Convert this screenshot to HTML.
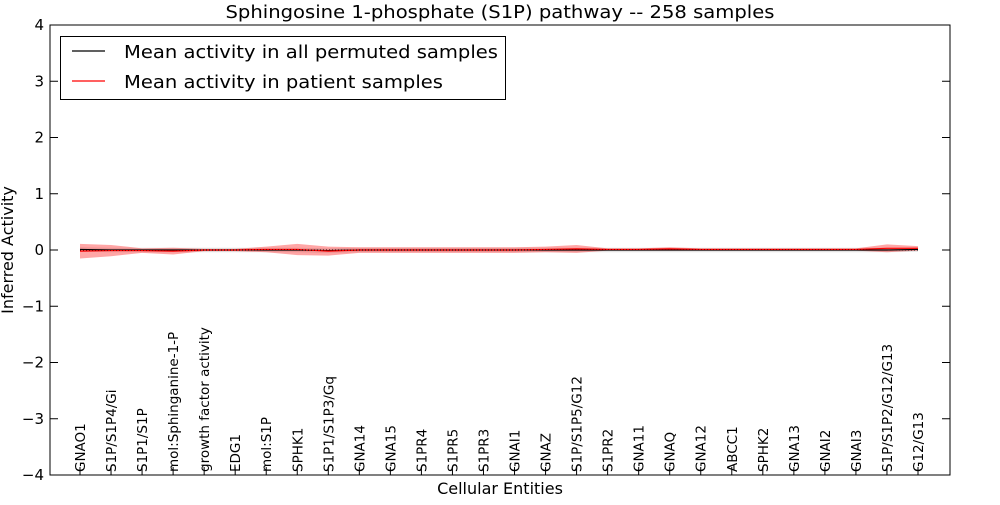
<!DOCTYPE html>
<html><head><meta charset="utf-8"><style>
body{margin:0;background:#fff;}
svg text{font-family:"DejaVu Sans","Liberation Sans",sans-serif;}
</style></head><body>
<svg id="chart" width="1000" height="500" xmlns="http://www.w3.org/2000/svg">
<rect width="1000" height="500" fill="#fff"/>
<text x="500" y="18" text-anchor="middle" font-size="18" textLength="549" lengthAdjust="spacingAndGlyphs">Sphingosine 1-phosphate (S1P) pathway -- 258 samples</text>
<g id="plot"></g>
<rect x="50" y="25" width="900" height="450" fill="none" stroke="#000" stroke-width="1"/>
<text x="500" y="494" text-anchor="middle" font-size="16">Cellular Entities</text>
<text transform="translate(13,250) rotate(-90)" text-anchor="middle" font-size="16">Inferred Activity</text>
<g>
<rect x="60.5" y="36.5" width="445" height="63" fill="#fff" stroke="#000"/>
<line x1="72" y1="51" x2="105" y2="51" stroke="#000" stroke-width="1.2"/>
<text x="124" y="58" font-size="18" textLength="374" lengthAdjust="spacingAndGlyphs">Mean activity in all permuted samples</text>
<line x1="72" y1="81" x2="105" y2="81" stroke="#f00" stroke-width="1.2"/>
<text x="124" y="88" font-size="18" textLength="319" lengthAdjust="spacingAndGlyphs">Mean activity in patient samples</text>
</g>
</svg>
<script>
const categories=["GNAO1","S1P/S1P4/Gi","S1P1/S1P","mol:Sphinganine-1-P","growth factor activity","EDG1","mol:S1P","SPHK1","S1P1/S1P3/Gq","GNA14","GNA15","S1PR4","S1PR5","S1PR3","GNAI1","GNAZ","S1P/S1P5/G12","S1PR2","GNA11","GNAQ","GNA12","ABCC1","SPHK2","GNA13","GNAI2","GNAI3","S1P/S1P2/G12/G13","G12/G13"];
const patientMean=[-0.02,-0.01,-0.01,-0.02,0,0,0.01,0.01,-0.02,0,0,0,0,0,0,0.01,0.02,0.01,0.01,0.02,0.01,0.01,0.01,0.01,0.01,0.01,0.03,0.03];
const patientSpread=[0.13,0.1,0.04,0.06,0.02,0.02,0.05,0.1,0.08,0.05,0.05,0.05,0.05,0.05,0.05,0.05,0.07,0.02,0.02,0.03,0.02,0.02,0.02,0.02,0.02,0.02,0.07,0.04];
const permMean=[0.01,0,0,0,0,0,0,0,-0.01,0,0,0,0,0,0,0,0,0,0,0,0,0,0,0,0,0,0,0.01];
const permSpread=[0.04,0.04,0.04,0.04,0.04,0.04,0.04,0.04,0.04,0.04,0.04,0.04,0.04,0.04,0.04,0.04,0.04,0.04,0.04,0.04,0.04,0.04,0.04,0.04,0.04,0.04,0.04,0.04];
const yTicks=[-4,-3,-2,-1,0,1,2,3,4];
const NS="http://www.w3.org/2000/svg";
const x=i=>80+i*(838/(categories.length-1));
const y=v=>250-v*56.25;
const g=document.getElementById('plot');
function mk(t,a){const e=document.createElementNS(NS,t);for(const k in a)e.setAttribute(k,a[k]);g.appendChild(e);return e;}
function band(m,s){let up=m.map((v,i)=>x(i)+','+y(v+s[i]));let lo=m.map((v,i)=>x(i)+','+y(v-s[i])).reverse();return up.concat(lo).join(' ');}
let e=mk('polygon',{points:band(permMean,permSpread),fill:'#bbb','fill-opacity':0.4});


e=mk('polygon',{points:band(patientMean,patientSpread),fill:'#f00','fill-opacity':0.35});


e=mk('polyline',{points:permMean.map((v,i)=>x(i)+','+y(v)).join(' '),fill:'none',stroke:'#000','stroke-width':1.2});


e=mk('polyline',{points:patientMean.map((v,i)=>x(i)+','+y(v)).join(' '),fill:'none',stroke:'#f00','stroke-width':1.2});


e=mk('line',{x1:x(0),x2:x(categories.length-1),y1:y(0),y2:y(0),stroke:'#000','stroke-dasharray':'1,2'});


yTicks.forEach(v=>{
 let t=mk('line',{x1:50,x2:58,y1:y(v),y2:y(v),stroke:'#000'});
 
 
 t=mk('line',{x1:942,x2:950,y1:y(v),y2:y(v),stroke:'#000'});
 
 
 const l=mk('text',{x:44,y:y(v)+5,'text-anchor':'end','font-size':15});
 l.textContent=(v<0?'\u2212'+(-v):String(v));
 
 
});
categories.forEach((c,i)=>{
 let t=mk('line',{x1:x(i),x2:x(i),y1:475,y2:467,stroke:'#000'});
 
 
 const l=mk('text',{transform:`translate(${x(i)+5},472) rotate(-90)`,'font-size':13.5});
 l.textContent=c;
 
 
});
</script>
</body></html>
